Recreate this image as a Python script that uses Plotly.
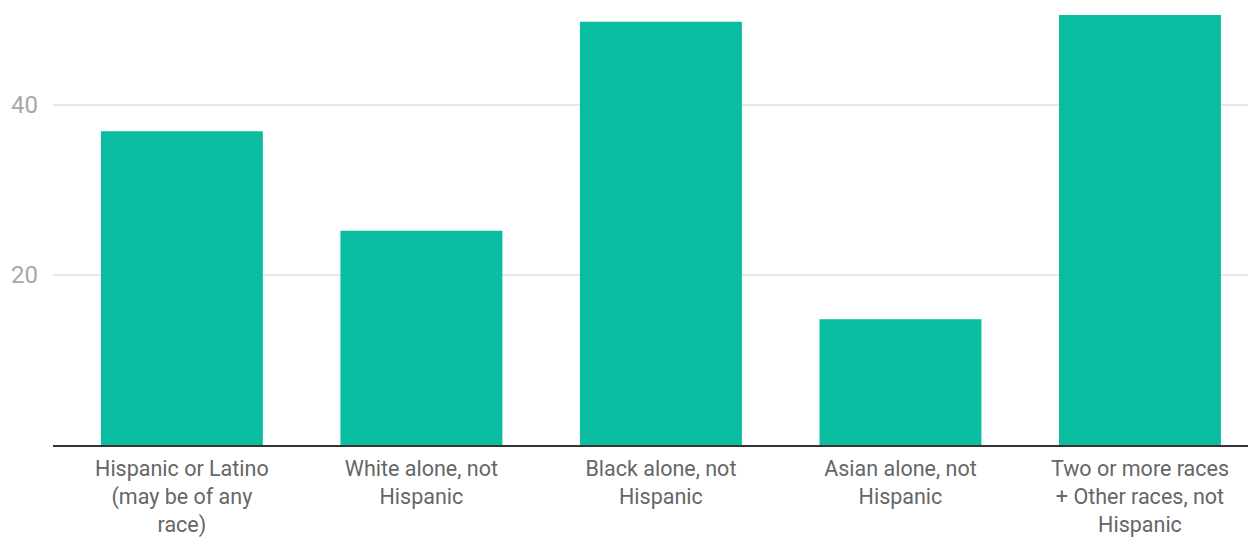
import plotly.graph_objects as go

categories = [
    "Hispanic or Latino<br>(may be of any<br>race)",
    "White alone, not<br>Hispanic",
    "Black alone, not<br>Hispanic",
    "Asian alone, not<br>Hispanic",
    "Two or more races<br>+ Other races, not<br>Hispanic",
]
values = [36.9, 25.2, 49.8, 14.8, 50.6]
y_ticks = [20, 40]

fig = go.Figure(go.Bar(
    x=list(range(len(categories))),
    y=values,
    marker=dict(color="#0bbda0", line=dict(width=0)),
    width=0.676,
))

fig.update_layout(
    width=1248, height=537,
    margin=dict(l=53, r=0, t=0, b=92),
    paper_bgcolor="white", plot_bgcolor="white",
    font=dict(family="Roboto", size=22, color="#666666"),
    showlegend=False,
)
fig.update_xaxes(
    tickvals=list(range(len(categories))),
    ticktext=categories,
    range=[-0.538, 4.451],
    showline=True, linecolor="#333333", linewidth=2,
    showgrid=False, ticks="",
    tickfont=dict(size=21.5, color="#666666"),
    ticklabelstandoff=3,
    automargin=False,
)
fig.update_yaxes(
    range=[0, 52.35],
    tickvals=y_ticks,
    showgrid=True, gridcolor="#e6e6e6", gridwidth=1.5,
    zeroline=False, showline=False, ticks="",
    tickfont=dict(size=24, color="#a8a8a8"),
    ticklabelstandoff=14,
    automargin=False,
)

fig.write_html("out.html")
